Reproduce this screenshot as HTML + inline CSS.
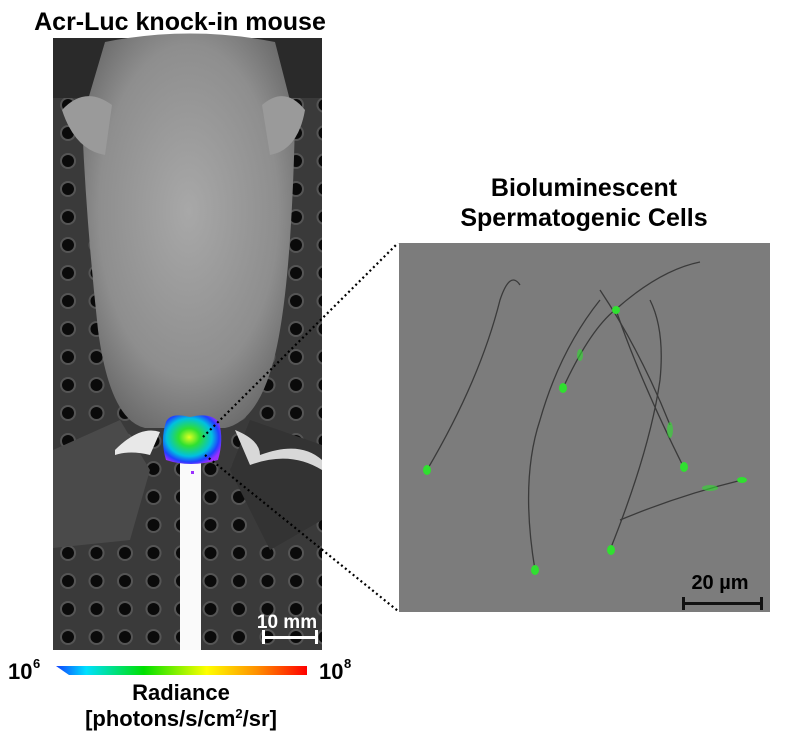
<!DOCTYPE html>
<html><head><meta charset="utf-8"><style>
html,body{margin:0;padding:0;background:#fff;width:785px;height:736px;overflow:hidden}
svg{display:block}
text{font-family:"Liberation Sans",Arial,sans-serif;font-weight:bold;fill:#000}
</style></head><body>
<svg width="785" height="736" viewBox="0 0 785 736">
<defs>
<pattern id="holes" x="54" y="35" width="28.5" height="28" patternUnits="userSpaceOnUse">
<circle cx="14" cy="14" r="8" fill="#555"/>
<circle cx="14" cy="14" r="6" fill="#0a0a0a"/>
</pattern>
<radialGradient id="body" cx="0.5" cy="0.45" r="0.6">
<stop offset="0" stop-color="#a8a8a8"/><stop offset="0.7" stop-color="#8e8e8e"/><stop offset="1" stop-color="#6a6a6a"/>
</radialGradient>
<linearGradient id="cbar" x1="0" x2="1">
<stop offset="0" stop-color="#1040ff"/><stop offset="0.12" stop-color="#00e0ff"/><stop offset="0.35" stop-color="#00e000"/><stop offset="0.6" stop-color="#ffff00"/><stop offset="0.8" stop-color="#ff9000"/><stop offset="1" stop-color="#ff0000"/>
</linearGradient>
<radialGradient id="blob" cx="0.45" cy="0.45" r="0.6">
<stop offset="0" stop-color="#e0ff20"/><stop offset="0.3" stop-color="#30e030"/><stop offset="0.65" stop-color="#00c0e0"/><stop offset="0.85" stop-color="#2040ff"/><stop offset="1" stop-color="#9a30ff"/>
</radialGradient>
</defs>
<text x="180" y="30" font-size="25" text-anchor="middle">Acr-Luc knock-in mouse</text>
<rect x="53" y="38" width="269" height="612" fill="#3a3a3a"/>
<rect x="53" y="38" width="269" height="612" fill="url(#holes)"/>
<rect x="53" y="38" width="269" height="60" fill="#2a2a2a"/>
<path d="M53 450 L120 420 L150 470 L130 540 L53 548 Z" fill="#4a4a4a"/>
<path d="M322 445 L250 420 L230 470 L270 550 L322 520 Z" fill="#333"/>
<path d="M105 42 Q190 25 275 42 L295 120 Q292 260 280 330 Q265 420 225 428 L145 428 Q110 420 98 330 Q86 220 82 120 Z" fill="url(#body)"/>
<path d="M62 110 Q85 85 112 105 L105 155 Q75 150 62 110Z" fill="#9a9a9a"/>
<path d="M305 110 Q285 85 262 105 L270 155 Q298 150 305 110Z" fill="#9a9a9a"/>
<path d="M115 450 Q140 425 160 432 L150 455 Q130 450 115 455Z" fill="#e8e8e8"/>
<path d="M235 430 Q260 440 260 455 Q300 440 322 460 L322 470 Q290 450 250 465 Z" fill="#d8d8d8"/>
<rect x="180" y="462" width="21" height="188" fill="#fafafa"/>
<path d="M166 422 Q170 412 190 417 Q210 412 219 422 Q224 440 218 460 Q190 468 166 460 Q160 440 166 422Z" fill="url(#blob)"/>
<rect x="191" y="471" width="3" height="3" fill="#9a30ff"/>
<text x="287" y="628" font-size="19" text-anchor="middle" style="fill:#fff">10 mm</text>
<rect x="262" y="636" width="56" height="3" fill="#fff"/>
<rect x="262" y="630" width="3" height="14" fill="#fff"/>
<rect x="315" y="630" width="3" height="14" fill="#fff"/>
<line x1="203" y1="437" x2="398" y2="243" stroke="#000" stroke-width="2.2" stroke-dasharray="2 3"/>
<line x1="205" y1="455" x2="398" y2="611" stroke="#000" stroke-width="2.2" stroke-dasharray="2 3"/>
<path d="M56 666 L307 666 L307 675 L69 675 Z" fill="url(#cbar)"/>
<text x="8" y="679" font-size="22">10</text><text x="33" y="668" font-size="13">6</text>
<text x="319" y="679" font-size="22">10</text><text x="344" y="668" font-size="13">8</text>
<text x="181" y="700" font-size="22" text-anchor="middle">Radiance</text>
<text x="181" y="726" font-size="22" text-anchor="middle">[photons/s/cm<tspan font-size="13" dy="-8">2</tspan><tspan dy="8">/sr]</tspan></text>
<text x="584" y="196" font-size="25" text-anchor="middle">Bioluminescent</text>
<text x="584" y="226" font-size="25" text-anchor="middle">Spermatogenic Cells</text>
<rect x="399" y="243" width="371" height="369" fill="#7c7c7c"/>
<g fill="none" stroke="#3a3a3a" stroke-width="1.3">
<path d="M427 470 Q480 380 500 300 Q510 270 520 285"/>
<path d="M563 388 Q590 330 615 310 Q660 270 700 262"/>
<path d="M616 310 Q640 380 684 468"/>
<path d="M535 570 Q520 480 540 420 Q560 350 600 300"/>
<path d="M610 550 Q650 450 660 380 Q665 330 650 300"/>
<path d="M742 480 Q680 495 620 520"/>
<path d="M670 425 Q640 350 600 290"/>
</g>
<g fill="#30e030">
<ellipse cx="427" cy="470" rx="4" ry="5"/>
<ellipse cx="563" cy="388" rx="4" ry="5"/>
<ellipse cx="616" cy="310" rx="4" ry="4"/>
<ellipse cx="684" cy="467" rx="4" ry="5"/>
<ellipse cx="535" cy="570" rx="4" ry="5"/>
<ellipse cx="611" cy="550" rx="4" ry="5"/>
<ellipse cx="742" cy="480" rx="5" ry="3"/>
<ellipse cx="580" cy="355" rx="3" ry="6" opacity="0.6"/>
<ellipse cx="670" cy="430" rx="3" ry="8" opacity="0.6"/>
<ellipse cx="710" cy="488" rx="8" ry="3" opacity="0.6"/>
</g>
<text x="720" y="589" font-size="20" text-anchor="middle">20 µm</text>
<rect x="682" y="602" width="81" height="3" fill="#111"/>
<rect x="682" y="597" width="3" height="13" fill="#111"/>
<rect x="760" y="597" width="3" height="13" fill="#111"/>
</svg>
</body></html>
